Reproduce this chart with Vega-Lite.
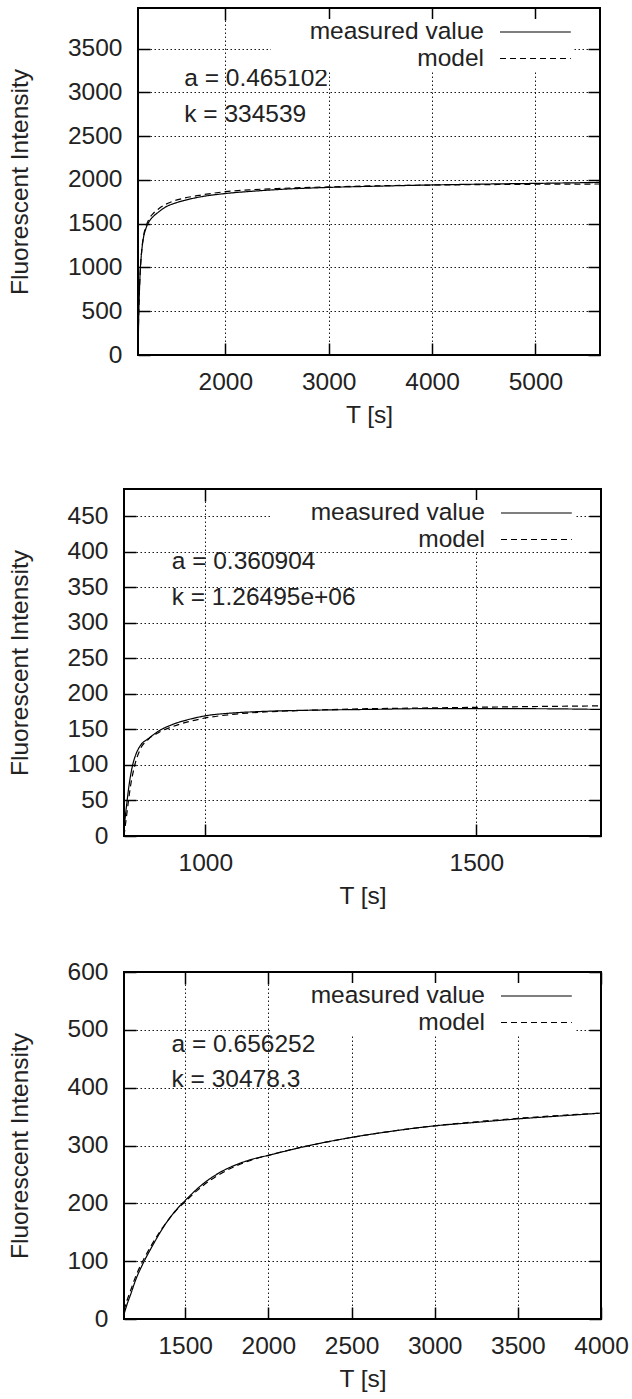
{
  "$schema": "https://vega.github.io/schema/vega-lite/v6.json",
  "background": "white",
  "padding": {"left": 5, "top": 6, "right": 5, "bottom": 2},
  "spacing": 49,
  "resolve": {"scale": {"strokeDash": "independent"}, "legend": {"strokeDash": "independent"}},
  "datasets": {
    "p1": [
      {"T": 1155, "I": 0, "series": "measured value"},
      {"T": 1158, "I": 200, "series": "measured value"},
      {"T": 1162, "I": 450, "series": "measured value"},
      {"T": 1168, "I": 700, "series": "measured value"},
      {"T": 1176, "I": 950, "series": "measured value"},
      {"T": 1188, "I": 1150, "series": "measured value"},
      {"T": 1205, "I": 1320, "series": "measured value"},
      {"T": 1230, "I": 1440, "series": "measured value"},
      {"T": 1260, "I": 1520, "series": "measured value"},
      {"T": 1300, "I": 1580, "series": "measured value"},
      {"T": 1350, "I": 1630, "series": "measured value"},
      {"T": 1420, "I": 1690, "series": "measured value"},
      {"T": 1500, "I": 1730, "series": "measured value"},
      {"T": 1600, "I": 1765, "series": "measured value"},
      {"T": 1750, "I": 1805, "series": "measured value"},
      {"T": 2000, "I": 1845, "series": "measured value"},
      {"T": 2250, "I": 1870, "series": "measured value"},
      {"T": 2500, "I": 1890, "series": "measured value"},
      {"T": 3000, "I": 1915, "series": "measured value"},
      {"T": 3500, "I": 1930, "series": "measured value"},
      {"T": 4000, "I": 1943, "series": "measured value"},
      {"T": 4500, "I": 1953, "series": "measured value"},
      {"T": 5000, "I": 1961, "series": "measured value"},
      {"T": 5624, "I": 1972, "series": "measured value"},
      {"T": 1155, "I": 0, "series": "model"},
      {"T": 1158, "I": 250, "series": "model"},
      {"T": 1163, "I": 520, "series": "model"},
      {"T": 1170, "I": 780, "series": "model"},
      {"T": 1180, "I": 1020, "series": "model"},
      {"T": 1193, "I": 1220, "series": "model"},
      {"T": 1210, "I": 1370, "series": "model"},
      {"T": 1235, "I": 1480, "series": "model"},
      {"T": 1265, "I": 1560, "series": "model"},
      {"T": 1305, "I": 1620, "series": "model"},
      {"T": 1355, "I": 1670, "series": "model"},
      {"T": 1420, "I": 1720, "series": "model"},
      {"T": 1500, "I": 1760, "series": "model"},
      {"T": 1600, "I": 1792, "series": "model"},
      {"T": 1750, "I": 1825, "series": "model"},
      {"T": 2000, "I": 1866, "series": "model"},
      {"T": 2250, "I": 1888, "series": "model"},
      {"T": 2500, "I": 1902, "series": "model"},
      {"T": 3000, "I": 1921, "series": "model"},
      {"T": 3500, "I": 1934, "series": "model"},
      {"T": 4000, "I": 1942, "series": "model"},
      {"T": 4500, "I": 1947, "series": "model"},
      {"T": 5000, "I": 1951, "series": "model"},
      {"T": 5624, "I": 1954, "series": "model"}
    ],
    "p2": [
      {"T": 850, "I": 10, "series": "measured value"},
      {"T": 855, "I": 45, "series": "measured value"},
      {"T": 860, "I": 75, "series": "measured value"},
      {"T": 866, "I": 100, "series": "measured value"},
      {"T": 872, "I": 115, "series": "measured value"},
      {"T": 880, "I": 127, "series": "measured value"},
      {"T": 895, "I": 137, "series": "measured value"},
      {"T": 915, "I": 148, "series": "measured value"},
      {"T": 940, "I": 157, "series": "measured value"},
      {"T": 970, "I": 164, "series": "measured value"},
      {"T": 1000, "I": 169, "series": "measured value"},
      {"T": 1050, "I": 173, "series": "measured value"},
      {"T": 1100, "I": 175, "series": "measured value"},
      {"T": 1200, "I": 177, "series": "measured value"},
      {"T": 1300, "I": 178, "series": "measured value"},
      {"T": 1400, "I": 179, "series": "measured value"},
      {"T": 1500, "I": 179, "series": "measured value"},
      {"T": 1600, "I": 179, "series": "measured value"},
      {"T": 1730, "I": 178, "series": "measured value"},
      {"T": 850, "I": 0, "series": "model"},
      {"T": 855, "I": 30, "series": "model"},
      {"T": 862, "I": 70, "series": "model"},
      {"T": 870, "I": 100, "series": "model"},
      {"T": 880, "I": 122, "series": "model"},
      {"T": 895, "I": 136, "series": "model"},
      {"T": 915, "I": 146, "series": "model"},
      {"T": 940, "I": 154, "series": "model"},
      {"T": 970, "I": 161, "series": "model"},
      {"T": 1000, "I": 166, "series": "model"},
      {"T": 1050, "I": 171, "series": "model"},
      {"T": 1100, "I": 174, "series": "model"},
      {"T": 1200, "I": 177, "series": "model"},
      {"T": 1300, "I": 179, "series": "model"},
      {"T": 1400, "I": 180, "series": "model"},
      {"T": 1500, "I": 181, "series": "model"},
      {"T": 1600, "I": 182, "series": "model"},
      {"T": 1730, "I": 183, "series": "model"}
    ],
    "p3": [
      {"T": 1132, "I": 8, "series": "measured value"},
      {"T": 1150, "I": 25, "series": "measured value"},
      {"T": 1175, "I": 45, "series": "measured value"},
      {"T": 1200, "I": 66, "series": "measured value"},
      {"T": 1250, "I": 98, "series": "measured value"},
      {"T": 1300, "I": 125, "series": "measured value"},
      {"T": 1350, "I": 150, "series": "measured value"},
      {"T": 1400, "I": 172, "series": "measured value"},
      {"T": 1450, "I": 190, "series": "measured value"},
      {"T": 1500, "I": 205, "series": "measured value"},
      {"T": 1600, "I": 232, "series": "measured value"},
      {"T": 1700, "I": 252, "series": "measured value"},
      {"T": 1800, "I": 266, "series": "measured value"},
      {"T": 1900, "I": 276, "series": "measured value"},
      {"T": 2000, "I": 283, "series": "measured value"},
      {"T": 2200, "I": 297, "series": "measured value"},
      {"T": 2500, "I": 314, "series": "measured value"},
      {"T": 2750, "I": 325, "series": "measured value"},
      {"T": 3000, "I": 334, "series": "measured value"},
      {"T": 3250, "I": 340, "series": "measured value"},
      {"T": 3500, "I": 346, "series": "measured value"},
      {"T": 3750, "I": 351, "series": "measured value"},
      {"T": 4000, "I": 356, "series": "measured value"},
      {"T": 1132, "I": 15, "series": "model"},
      {"T": 1150, "I": 32, "series": "model"},
      {"T": 1175, "I": 52, "series": "model"},
      {"T": 1200, "I": 72, "series": "model"},
      {"T": 1250, "I": 103, "series": "model"},
      {"T": 1300, "I": 129, "series": "model"},
      {"T": 1350, "I": 152, "series": "model"},
      {"T": 1400, "I": 172, "series": "model"},
      {"T": 1450, "I": 189, "series": "model"},
      {"T": 1500, "I": 203, "series": "model"},
      {"T": 1600, "I": 229, "series": "model"},
      {"T": 1700, "I": 249, "series": "model"},
      {"T": 1800, "I": 264, "series": "model"},
      {"T": 1900, "I": 275, "series": "model"},
      {"T": 2000, "I": 283, "series": "model"},
      {"T": 2200, "I": 297, "series": "model"},
      {"T": 2500, "I": 314, "series": "model"},
      {"T": 2750, "I": 325, "series": "model"},
      {"T": 3000, "I": 334, "series": "model"},
      {"T": 3250, "I": 341, "series": "model"},
      {"T": 3500, "I": 347, "series": "model"},
      {"T": 3750, "I": 352, "series": "model"},
      {"T": 4000, "I": 356, "series": "model"}
    ],
    "a1": [
      {"T": 1602, "I": 3073, "label": "a = 0.465102"},
      {"T": 1602, "I": 2666, "label": "k = 334539"}
    ],
    "a2": [
      {"T": 938, "I": 375, "label": "a = 0.360904"},
      {"T": 938, "I": 325, "label": "k = 1.26495e+06"}
    ],
    "a3": [
      {"T": 1418, "I": 461, "label": "a = 0.656252"},
      {"T": 1418, "I": 402, "label": "k = 30478.3"}
    ],
    "blank": [{"v": 0}]
  },
  "vconcat": [
    {
      "spacing": 59,
      "resolve": {"scale": {"strokeDash": "independent"}, "legend": {"strokeDash": "independent"}},
      "vconcat": [
        {
          "spacing": 0,
          "resolve": {"scale": {"strokeDash": "independent"}, "legend": {"strokeDash": "independent"}},
          "hconcat": [
            {"width": 1, "height": 1, "data": {"name": "blank"}, "mark": {"type": "point", "size": 0, "opacity": 0}, "encoding": {}, "view": {"stroke": null}},
            {
              "width": 462,
              "height": 347,
              "layer": [
                {
                  "data": {"name": "p1"},
                  "mark": {"type": "line", "color": "black", "strokeWidth": 1.2, "interpolate": "monotone"},
                  "encoding": {
                    "x": {"field": "T", "type": "quantitative", "scale": {"domain": [1155, 5624], "nice": false, "zero": false},
                          "axis": {"orient": "bottom", "values": [2000, 3000, 4000, 5000], "format": "d", "title": "T [s]", "grid": true}},
                    "y": {"field": "I", "type": "quantitative", "scale": {"domain": [0, 3965], "nice": false},
                          "axis": {"orient": "left", "values": [0, 500, 1000, 1500, 2000, 2500, 3000, 3500], "format": "d", "title": "Fluorescent Intensity", "grid": true}},
                    "strokeDash": {"field": "series", "type": "nominal",
                          "scale": {"domain": ["measured value", "model"], "range": [[1, 0], [6, 4]]},
                          "legend": {"orient": "none", "legendX": 133, "legendY": 11, "title": null, "fillColor": "white", "padding": 0,
                                     "labelAlign": "right", "labelOffset": -29, "symbolOffset": 216, "symbolType": "M0,0H5.9", "symbolSize": 576,
                                     "symbolStrokeWidth": 1.2, "symbolStrokeColor": "black", "symbolFillColor": "transparent", "rowPadding": 1.5,
                                     "labelFontSize": 24.5, "labelFont": "Liberation Sans", "labelColor": "#222", "labelLimit": 400}}
                  }
                },
                {
                  "data": {"name": "a1"},
                  "mark": {"type": "text", "align": "left", "baseline": "alphabetic", "font": "Liberation Sans", "fontSize": 24.5, "color": "#222"},
                  "encoding": {
                    "x": {"field": "T", "type": "quantitative", "scale": {"domain": [1155, 5624], "nice": false, "zero": false},
                          "axis": {"orient": "top", "values": [2000, 3000, 4000, 5000], "labels": false, "grid": false, "title": null}},
                    "y": {"field": "I", "type": "quantitative", "scale": {"domain": [0, 3965], "nice": false},
                          "axis": {"orient": "right", "values": [0, 500, 1000, 1500, 2000, 2500, 3000, 3500], "labels": false, "grid": false, "title": null}},
                    "text": {"field": "label", "type": "nominal"}
                  }
                }
              ],
              "resolve": {"axis": {"x": "independent", "y": "independent"}}
            }
          ]
        },
        {
          "spacing": 0,
          "resolve": {"scale": {"strokeDash": "independent"}, "legend": {"strokeDash": "independent"}},
          "hconcat": [
            {"width": 1, "height": 1, "data": {"name": "blank"}, "mark": {"type": "point", "size": 0, "opacity": 0}, "encoding": {}, "view": {"stroke": null}},
            {
              "width": 477,
              "height": 347,
              "layer": [
                {
                  "data": {"name": "p2"},
                  "mark": {"type": "line", "color": "black", "strokeWidth": 1.2, "interpolate": "monotone"},
                  "encoding": {
                    "x": {"field": "T", "type": "quantitative", "scale": {"domain": [850, 1730], "nice": false, "zero": false},
                          "axis": {"orient": "bottom", "values": [1000, 1500], "format": "d", "title": "T [s]", "grid": true}},
                    "y": {"field": "I", "type": "quantitative", "scale": {"domain": [0, 488], "nice": false},
                          "axis": {"orient": "left", "values": [0, 50, 100, 150, 200, 250, 300, 350, 400, 450], "format": "d", "title": "Fluorescent Intensity", "grid": true}},
                    "strokeDash": {"field": "series", "type": "nominal",
                          "scale": {"domain": ["measured value", "model"], "range": [[1, 0], [6, 4]]},
                          "legend": {"orient": "none", "legendX": 148, "legendY": 11, "title": null, "fillColor": "white", "padding": 0,
                                     "labelAlign": "right", "labelOffset": -29, "symbolOffset": 216, "symbolType": "M0,0H5.9", "symbolSize": 576,
                                     "symbolStrokeWidth": 1.2, "symbolStrokeColor": "black", "symbolFillColor": "transparent", "rowPadding": 1.5,
                                     "labelFontSize": 24.5, "labelFont": "Liberation Sans", "labelColor": "#222", "labelLimit": 400}}
                  }
                },
                {
                  "data": {"name": "a2"},
                  "mark": {"type": "text", "align": "left", "baseline": "alphabetic", "font": "Liberation Sans", "fontSize": 24.5, "color": "#222"},
                  "encoding": {
                    "x": {"field": "T", "type": "quantitative", "scale": {"domain": [850, 1730], "nice": false, "zero": false},
                          "axis": {"orient": "top", "values": [1000, 1500], "labels": false, "grid": false, "title": null}},
                    "y": {"field": "I", "type": "quantitative", "scale": {"domain": [0, 488], "nice": false},
                          "axis": {"orient": "right", "values": [0, 50, 100, 150, 200, 250, 300, 350, 400, 450], "labels": false, "grid": false, "title": null}},
                    "text": {"field": "label", "type": "nominal"}
                  }
                }
              ],
              "resolve": {"axis": {"x": "independent", "y": "independent"}}
            }
          ]
        }
      ]
    },
    {
      "spacing": 0,
      "resolve": {"scale": {"strokeDash": "independent"}, "legend": {"strokeDash": "independent"}},
      "hconcat": [
        {"width": 1, "height": 1, "data": {"name": "blank"}, "mark": {"type": "point", "size": 0, "opacity": 0}, "encoding": {}, "view": {"stroke": null}},
        {
          "width": 477,
          "height": 347,
          "layer": [
            {
              "data": {"name": "p3"},
              "mark": {"type": "line", "color": "black", "strokeWidth": 1.2, "interpolate": "monotone"},
              "encoding": {
                "x": {"field": "T", "type": "quantitative", "scale": {"domain": [1132, 4000], "nice": false, "zero": false},
                      "axis": {"orient": "bottom", "values": [1500, 2000, 2500, 3000, 3500, 4000], "format": "d", "title": "T [s]", "grid": true}},
                "y": {"field": "I", "type": "quantitative", "scale": {"domain": [0, 600], "nice": false},
                      "axis": {"orient": "left", "values": [0, 100, 200, 300, 400, 500, 600], "format": "d", "title": "Fluorescent Intensity", "grid": true}},
                "strokeDash": {"field": "series", "type": "nominal",
                      "scale": {"domain": ["measured value", "model"], "range": [[1, 0], [6, 4]]},
                      "legend": {"orient": "none", "legendX": 148, "legendY": 11, "title": null, "fillColor": "white", "padding": 0,
                                 "labelAlign": "right", "labelOffset": -29, "symbolOffset": 216, "symbolType": "M0,0H5.9", "symbolSize": 576,
                                 "symbolStrokeWidth": 1.2, "symbolStrokeColor": "black", "symbolFillColor": "transparent", "rowPadding": 1.5,
                                 "labelFontSize": 24.5, "labelFont": "Liberation Sans", "labelColor": "#222", "labelLimit": 400}}
              }
            },
            {
              "data": {"name": "a3"},
              "mark": {"type": "text", "align": "left", "baseline": "alphabetic", "font": "Liberation Sans", "fontSize": 24.5, "color": "#222"},
              "encoding": {
                "x": {"field": "T", "type": "quantitative", "scale": {"domain": [1132, 4000], "nice": false, "zero": false},
                      "axis": {"orient": "top", "values": [1500, 2000, 2500, 3000, 3500, 4000], "labels": false, "grid": false, "title": null}},
                "y": {"field": "I", "type": "quantitative", "scale": {"domain": [0, 600], "nice": false},
                      "axis": {"orient": "right", "values": [0, 100, 200, 300, 400, 500, 600], "labels": false, "grid": false, "title": null}},
                "text": {"field": "label", "type": "nominal"}
              }
            }
          ],
          "resolve": {"axis": {"x": "independent", "y": "independent"}}
        }
      ]
    }
  ],
  "config": {
    "font": "Liberation Sans",
    "view": {"stroke": "black", "strokeWidth": 2},
    "axis": {
      "labelFont": "Liberation Sans", "labelFontSize": 24.5, "labelColor": "#222", "labelOverlap": false, "labelFlush": false,
      "titleFont": "Liberation Sans", "titleFontSize": 24.5, "titleFontWeight": "normal", "titleColor": "#222",
      "domain": false, "tickColor": "black", "tickWidth": 1.5, "tickSize": -12,
      "gridColor": "black", "gridDash": [1.5, 2.5], "gridWidth": 1, "gridOpacity": 0.9
    },
    "axisX": {"labelPadding": 27, "titlePadding": 10},
    "axisY": {"labelPadding": 28, "titlePadding": 35}
  }
}
